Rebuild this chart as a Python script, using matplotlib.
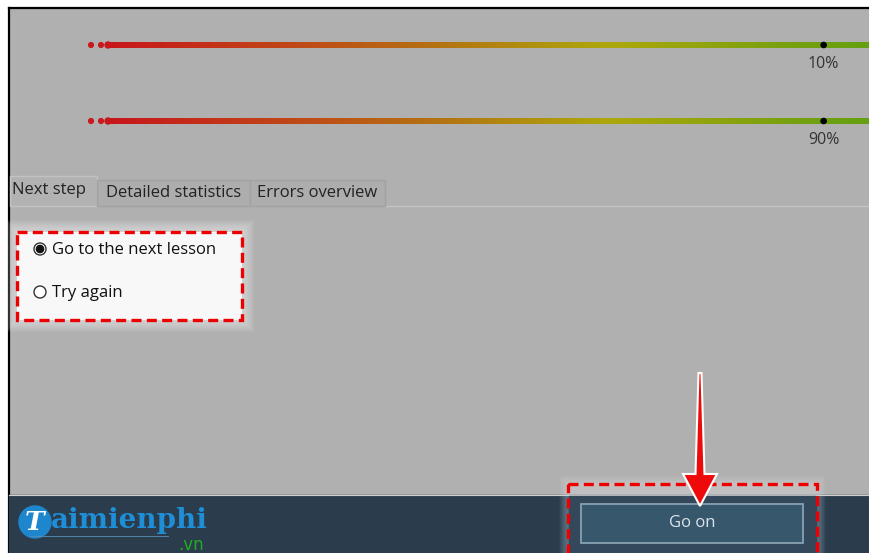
import numpy as np
import matplotlib
matplotlib.use("Agg")
import matplotlib.pyplot as plt
from matplotlib.patches import Rectangle, Circle, Polygon
from matplotlib.colors import LinearSegmentedColormap

plt.rcParams['font.family'] = ['Open Sans', 'DejaVu Sans']

# score bars
bar_labels = ["10%", "90%"]
bar_rows = [45, 121]
marker_pos = [0.927, 0.927]          # marker position along the bar (0..1)
grad_stops = [0.0, 0.25, 0.45, 0.65, 0.9, 1.0]
grad_colors = ["#c8161c", "#bf4a18", "#b37812", "#ada80c", "#74a010", "#62a012"]

# tabs
tab_labels = ["Next step", "Detailed statistics", "Errors overview"]
tab_edges = [10, 97, 250, 385]

# radio options
radio_labels = ["Go to the next lesson", "Try again"]
radio_selected = [True, False]
radio_rows = [250, 293]

button_label = "Go on"

W, H = 870, 553
fig = plt.figure(figsize=(W / 100, H / 100), dpi=100)
ax = fig.add_axes([0, 0, 1, 1])
ax.set_xlim(0, W)
ax.set_ylim(H, 0)
ax.axis("off")

# background
ax.add_patch(Rectangle((0, 0), W, H, color="white", zorder=0))
ax.add_patch(Rectangle((9, 8), W - 9, H - 8, color="#b0b0b0", zorder=0.5))
ax.plot([9, 9], [8, H], color="black", lw=1.6, zorder=1)
ax.plot([9, W], [8, 8], color="black", lw=1.6, zorder=1)

# gradient bars
cmap = LinearSegmentedColormap.from_list("score", list(zip(grad_stops, grad_colors)))
bar_x0, bar_x1 = 108, 880
grad = np.linspace(0, 1, 512).reshape(1, -1)
for y, lab, pos in zip(bar_rows, bar_labels, marker_pos):
    ax.imshow(grad, cmap=cmap, aspect="auto", extent=[bar_x0, bar_x1, y + 3, y - 3],
              interpolation="bilinear", zorder=2)
    ax.add_patch(Circle((bar_x0, y), 3, color=grad_colors[0], zorder=2))
    for dx in (17, 7):
        ax.add_patch(Circle((bar_x0 - dx, y), 2.4, color="#c81a1e", zorder=2))
    mx = bar_x0 + pos * (bar_x1 - bar_x0)
    ax.add_patch(Circle((mx, y), 2.6, color="black", zorder=3))
    ax.text(mx, y + 19, lab, ha="center", va="center", fontsize=11.5, color="#333333", zorder=3)

# tabs
ax.plot([tab_edges[-1], W], [206, 206], color="#c4c4c4", lw=1, zorder=1)
for i, lab in enumerate(tab_labels):
    x0, x1 = tab_edges[i], tab_edges[i + 1]
    if i == 0:
        ax.add_patch(Rectangle((x0, 176), x1 - x0, 30, facecolor="#b2b2b2",
                               edgecolor="#c2c2c2", lw=1, zorder=1.5))
        ax.text(x0 + 2, 190, lab, ha="left", va="center", fontsize=12, color="#222222", zorder=3)
    else:
        ax.add_patch(Rectangle((x0, 180), x1 - x0, 26, facecolor="#adadad",
                               edgecolor="#a2a2a2", lw=1, zorder=1.5))
        ax.text((x0 + x1) / 2, 193, lab, ha="center", va="center", fontsize=12,
                color="#222222", zorder=3)

# highlighted radio box with soft glow
bx0, by0, bx1, by1 = 17, 232, 242, 320
for k in range(12, 0, -1):
    ax.add_patch(Rectangle((bx0 - k, by0 - k), bx1 - bx0 + 2 * k, by1 - by0 + 2 * k,
                           color="white", alpha=0.05, lw=0, zorder=1.6))
ax.add_patch(Rectangle((bx0, by0), bx1 - bx0, by1 - by0, facecolor="#f8f8f8",
                       edgecolor="none", zorder=1.7))
ax.add_patch(Rectangle((bx0, by0), bx1 - bx0, by1 - by0, facecolor="none", edgecolor="#ee0000",
                       lw=2.4, linestyle=(0, (3, 1.6)), zorder=4))
for y, lab, sel in zip(radio_rows, radio_labels, radio_selected):
    ax.add_patch(Circle((40, y - 1), 6, facecolor="white", edgecolor="#333333", lw=1, zorder=3))
    if sel:
        ax.add_patch(Circle((40, y - 1), 3.6, color="#111111", zorder=3.5))
    ax.text(52, y, lab, ha="left", va="center", fontsize=12, color="#111111", zorder=3)

# bottom bar
ax.add_patch(Rectangle((9, 495), W - 9, H - 495, color="#2b3d4d", zorder=1))
ax.plot([9, W], [495, 495], color="#cfcfcf", lw=0.8, zorder=1.2)

# button with glow and dashed highlight
for k in range(8, 0, -1):
    ax.add_patch(Rectangle((568 - k, 484 - k), 249 + 2 * k, 80, color="white",
                           alpha=0.04, lw=0, zorder=1.1))
for k in range(10, 0, -1):
    ax.add_patch(Rectangle((568 - k, 496), 249 + 2 * k, 60, color="#5a7a90",
                           alpha=0.04, lw=0, zorder=1.3))
ax.add_patch(Rectangle((569, 496), 247, 57, color="#33495b", zorder=1.4))
ax.add_patch(Rectangle((581, 504), 222, 39, facecolor="#37576d", edgecolor="#8fa8b8",
                       lw=1.2, zorder=2))
ax.text(692, 523, button_label, ha="center", va="center", fontsize=12, color="#dde4ea", zorder=3)
ax.add_patch(Rectangle((568, 484), 249, 75, facecolor="none", edgecolor="#ee0000",
                       lw=2.4, linestyle=(0, (3, 1.6)), zorder=4))

# arrow
cx, top, neck, tip = 700, 373, 474, 506
arrow = Polygon([(cx - 1.5, top), (cx + 1.5, top), (cx + 4.5, neck), (cx + 17, neck),
                 (cx, tip), (cx - 17, neck), (cx - 4.5, neck)],
                closed=True, facecolor="#ee0a0a", edgecolor="white", lw=1.5, zorder=5)
ax.add_patch(arrow)

# logo
ax.add_patch(Circle((35, 522), 16, color="#1e86cc", zorder=3))
ax.text(35, 522, "T", ha="center", va="center", fontsize=19, color="white",
        family="DejaVu Serif", style="italic", fontweight="bold", zorder=4)
ax.text(51, 521, "aimienphi", ha="left", va="center", fontsize=20, color="#1e8ed6",
        family="DejaVu Serif", fontweight="bold", zorder=3)
ax.plot([30, 168], [536, 536], color="#5a8fb8", lw=0.6, zorder=3)
ax.text(204, 545, ".vn", ha="right", va="center", fontsize=12, color="#22aa22",
        family="DejaVu Sans", zorder=3)

fig.savefig("out.png", dpi=100)
